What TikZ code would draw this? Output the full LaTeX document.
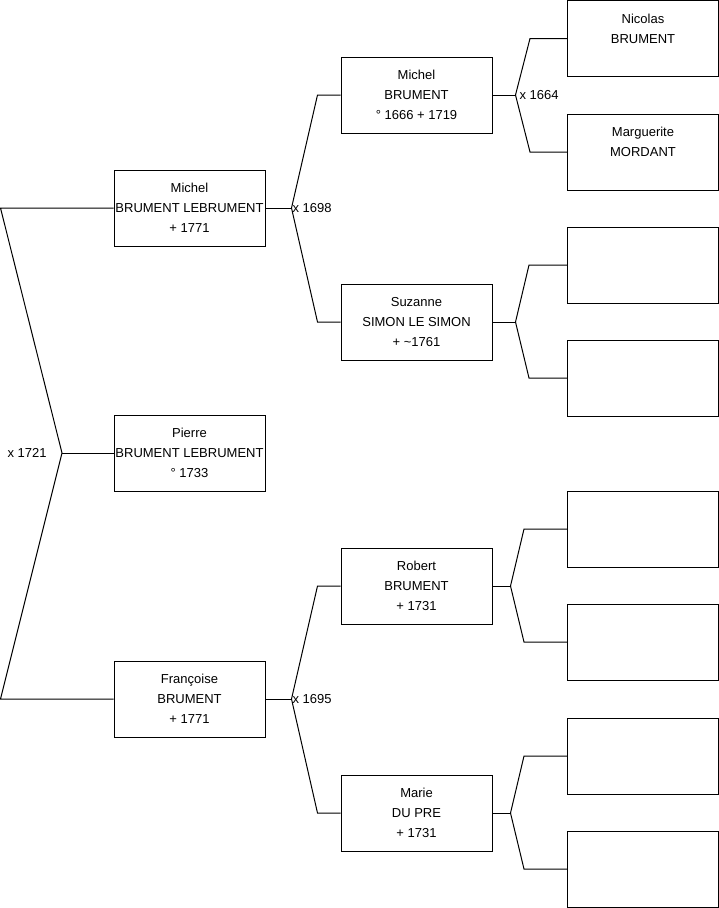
\documentclass[tikz,border=0pt]{standalone}
\usepackage{fontspec}
\setmainfont{Liberation Sans}
\begin{document}
\begin{tikzpicture}[x=1pt,y=-1pt,line width=1pt,
  person/.style={draw, minimum width=151pt, minimum height=76pt, inner sep=0pt, align=center,
    font=\fontsize{13}{20}\selectfont},
  link/.style={draw, line width=1pt},
  lab/.style={anchor=west, inner sep=0pt, font=\fontsize{13}{16}\selectfont}]
\useasboundingbox (0,0) rectangle (719,908);
% generation 1
\node[person] (mich1) at (189.5,208) {Michel\\BRUMENT LEBRUMENT\\+ 1771};
\node[person] (pier) at (189.5,453) {Pierre\\BRUMENT LEBRUMENT\\° 1733};
\node[person] (fran) at (189.5,699) {Françoise\\BRUMENT\\+ 1771};
% generation 2
\node[person] (mich2) at (416.5,95) {Michel\\BRUMENT\\° 1666 + 1719};
\node[person] (suz) at (416.5,322) {Suzanne\\SIMON LE SIMON\\+ \textasciitilde1761};
\node[person] (rob) at (416.5,586) {Robert\\BRUMENT\\+ 1731};
\node[person] (mar) at (416.5,813) {Marie\\DU PRE\\+ 1731};
% generation 3
\node[person] (nic) at (643,38.5) {Nicolas\\BRUMENT\\~};
\node[person] (marg) at (643,152) {Marguerite\\MORDANT\\~};
\node[person] (e1) at (643,265) {};
\node[person] (e2) at (643,378) {};
\node[person] (e3) at (643,529) {};
\node[person] (e4) at (643,642) {};
\node[person] (e5) at (643,756) {};
\node[person] (e6) at (643,869) {};
% left bracket
\coordinate (l1) at (0.5,208);
\coordinate (l2) at (0.5,699);
\coordinate (f0) at (62,453);
\draw[link] (mich1.west) -- (l1) -- (f0) -- (l2) -- (fran.west);
\draw[link] (f0) -- (pier.west);
\node[lab] (x1721) at (7,453) {x 1721};
% gen1 -> gen2
\coordinate (f1) at ([xshift=26pt]mich1.east);
\draw[link] (mich1.east) -- (f1);
\draw[link] (f1) -- ([xshift=-23pt]mich2.west) -- (mich2.west);
\draw[link] (f1) -- ([xshift=-23pt]suz.west) -- (suz.west);
\node[lab] (x1698) at (292,208) {x 1698};
\coordinate (f2) at ([xshift=26pt]fran.east);
\draw[link] (fran.east) -- (f2);
\draw[link] (f2) -- ([xshift=-23pt]rob.west) -- (rob.west);
\draw[link] (f2) -- ([xshift=-23pt]mar.west) -- (mar.west);
\node[lab] (x1695) at (292,699) {x 1695};
% gen2 -> gen3
\coordinate (f3) at ([xshift=23pt]mich2.east);
\draw[link] (mich2.east) -- (f3);
\draw[link] (f3) -- ([xshift=-37pt]nic.west) -- (nic.west);
\draw[link] (f3) -- ([xshift=-37pt]marg.west) -- (marg.west);
\node[lab] (x1664) at (519,95) {x 1664};
\coordinate (f4) at ([xshift=23pt]suz.east);
\draw[link] (suz.east) -- (f4);
\draw[link] (f4) -- ([xshift=-38pt]e1.west) -- (e1.west);
\draw[link] (f4) -- ([xshift=-38pt]e2.west) -- (e2.west);
\coordinate (f5) at ([xshift=18pt]rob.east);
\draw[link] (rob.east) -- (f5);
\draw[link] (f5) -- ([xshift=-43pt]e3.west) -- (e3.west);
\draw[link] (f5) -- ([xshift=-43pt]e4.west) -- (e4.west);
\coordinate (f6) at ([xshift=18pt]mar.east);
\draw[link] (mar.east) -- (f6);
\draw[link] (f6) -- ([xshift=-43pt]e5.west) -- (e5.west);
\draw[link] (f6) -- ([xshift=-43pt]e6.west) -- (e6.west);
\end{tikzpicture}
\end{document}
